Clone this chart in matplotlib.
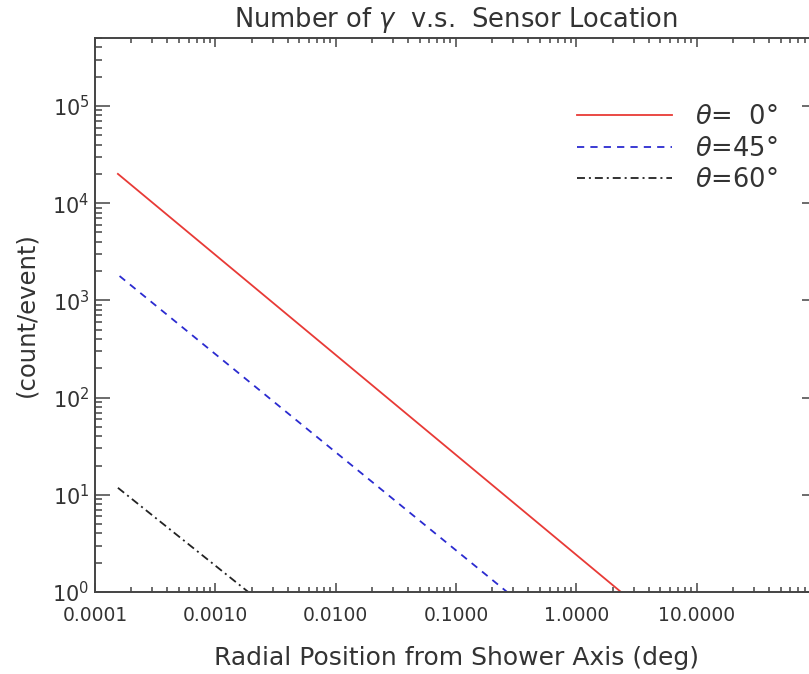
import numpy as np
import matplotlib
matplotlib.use('Agg')
import matplotlib.pyplot as plt
from matplotlib.ticker import LogLocator, FixedLocator, FormatStrFormatter, NullFormatter

# Данные (степенной спад, наклон ~ -1)
x_red = [1.55e-4, 2.35]
y_red = [2.0e4, 1.0]
x_blue = [1.60e-4, 0.266]
y_blue = [1.78e3, 1.0]
x_black = [1.55e-4, 1.88e-3]
y_black = [11.8, 1.0]

labels = ['$\\theta$=\u20070°', '$\\theta$=45°', '$\\theta$=60°']
x_ticks = [1e-4, 1e-3, 1e-2, 1e-1, 1e0, 1e1]

txt = '#333333'
plt.rcParams['font.family'] = ['DejaVu Sans']
plt.rcParams['mathtext.fontset'] = 'dejavusans'

fig = plt.figure(figsize=(8.09, 6.74), dpi=100)
ax = fig.add_axes([95/809, 82/674, 722/809, 554/674])

ax.plot(x_red, y_red, color='#e83a36', lw=1.3, label=labels[0])
ax.plot(x_blue, y_blue, color='#2b2bd0', lw=1.3, ls=(0, (4.0, 3.4)), label=labels[1])
ax.plot(x_black, y_black, color='#222222', lw=1.3, ls=(0, (4.4, 2.2, 1.1, 2.2)), label=labels[2])

ax.set_xscale('log')
ax.set_yscale('log')
ax.set_xlim(1e-4, 1e2)
ax.set_ylim(1, 5e5)

ax.xaxis.set_major_locator(FixedLocator(x_ticks))
ax.xaxis.set_major_formatter(FormatStrFormatter('%.4f'))
ax.xaxis.set_minor_locator(LogLocator(base=10, subs=np.arange(2, 10), numticks=20))
ax.xaxis.set_minor_formatter(NullFormatter())
ax.yaxis.set_major_locator(LogLocator(base=10, numticks=10))
ax.yaxis.set_minor_locator(LogLocator(base=10, subs=np.arange(2, 10), numticks=20))
ax.yaxis.set_minor_formatter(NullFormatter())

ax.tick_params(axis='both', which='both', direction='in', top=True, right=True,
               colors='#444444', labelcolor=txt, width=1.1)
ax.tick_params(axis='x', which='major', length=6.5, pad=10, labelsize=13.5)
ax.tick_params(axis='x', which='minor', length=3.5)
ax.tick_params(axis='y', which='major', length=10.5, pad=4, labelsize=15)
ax.tick_params(axis='y', which='minor', length=5)
for s in ax.spines.values():
    s.set_color('#444444')
    s.set_linewidth(1.4)

ax.set_title('Number of $\\gamma$  v.s.  Sensor Location', fontsize=18.5, color=txt, pad=8)
ax.set_xlabel('Radial Position from Shower Axis (deg)', fontsize=18, color=txt, labelpad=15)
ax.set_ylabel('(count/event)', fontsize=17.5, color=txt, labelpad=10)

leg = ax.legend(loc='upper left', bbox_to_anchor=(0.667, 0.881), frameon=False, borderpad=0,
                borderaxespad=0, fontsize=18.5, handlelength=3.7, handletextpad=0.9,
                labelspacing=0.22)
for t in leg.get_texts():
    t.set_color(txt)

fig.savefig('out.png', dpi=100)
